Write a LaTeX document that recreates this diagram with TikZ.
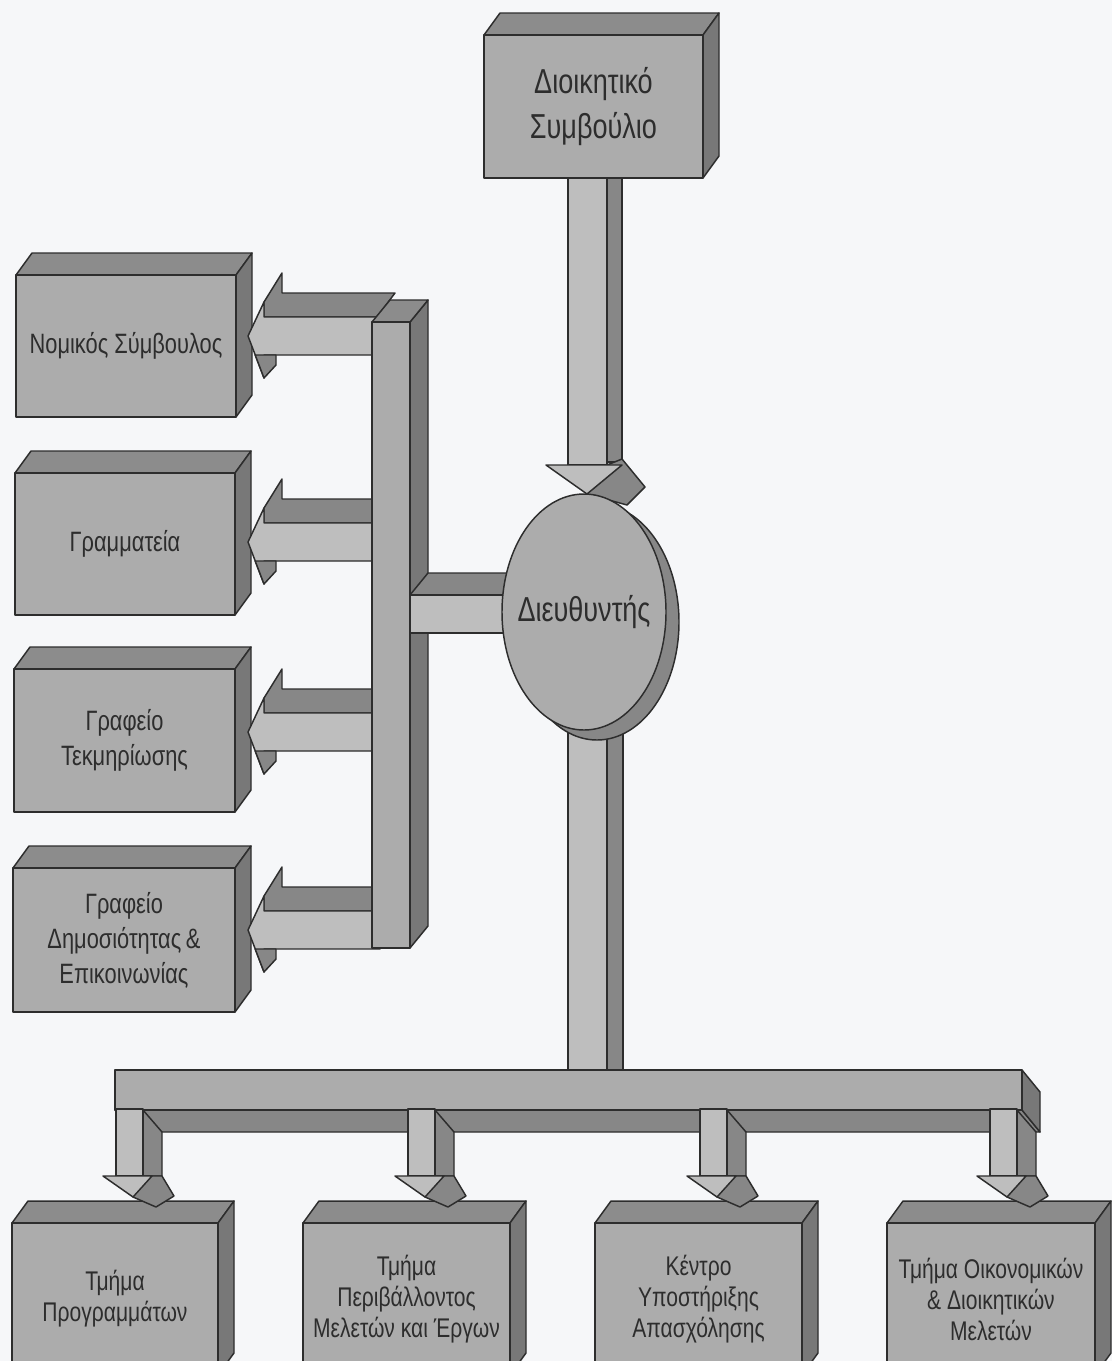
\documentclass[tikz,border=0pt]{standalone}
\usepackage{fontspec}
\setmainfont{Liberation Sans}
\newfontfamily\lblfont[FakeStretch=0.78]{Liberation Sans}
\definecolor{bg}{RGB}{246,247,249}
\definecolor{frontc}{RGB}{172,172,172}
\definecolor{topc}{RGB}{140,140,140}
\definecolor{sidec}{RGB}{120,120,120}
\definecolor{afront}{RGB}{190,190,190}
\definecolor{aside}{RGB}{135,135,135}
\definecolor{edge}{RGB}{45,45,45}
\definecolor{txt}{RGB}{45,45,45}
\tikzset{
  face/.style={draw=edge, line width=1.1pt, line join=round},
  lbl/.style={font=\lblfont\fontsize{21}{26.25}\selectfont, text=txt, align=center, inner sep=0pt},
  lblbig/.style={font=\lblfont\fontsize{26}{33.75}\selectfont, text=txt, align=center, inner sep=0pt},
  lblsmall/.style={font=\lblfont\fontsize{20.25}{23.25}\selectfont, text=txt, align=center, inner sep=0pt},
}
% 3D box: name, x1, y1, x2, y2, label style, text
\newcommand\tdbox[7]{%
  \filldraw[face,fill=topc] (#2,#3) -- (#2+16,#3-22) -- (#4+16,#3-22) -- (#4,#3) -- cycle;
  \filldraw[face,fill=sidec] (#4,#3) -- (#4+16,#3-22) -- (#4+16,#5-22) -- (#4,#5) -- cycle;
  \filldraw[face,fill=frontc] (#2,#3) rectangle (#4,#5);
  \node[#6] (#1) at ({(#2+#4)/2},{(#3+#5)/2}) {#7};
}
% left-pointing 3D arrow, mid y
\newcommand\larrow[1]{%
  \filldraw[face,fill=aside] (264,#1-34) -- (282,#1-63) -- (282,#1-43) -- (395,#1-43) -- (377,#1-19) -- (264,#1-19) -- cycle;
  \filldraw[face,fill=afront] (248,#1) -- (264,#1-34) -- (264,#1-19) -- (380,#1-19) -- (380,#1+19) -- (264,#1+19) -- (264,#1+42) -- cycle;
  \filldraw[face,fill=aside] (255.2,#1+19) -- (276,#1+19) -- (276,#1+29) -- (264,#1+42) -- cycle;
}
% down-pointing 3D arrow below the bottom bar, left x of shaft
\newcommand\darrow[1]{%
  \filldraw[face,fill=aside] (#1+27,1110) -- (#1+46,1132) -- (#1+46,1176) -- (#1+27,1176) -- cycle;
  \filldraw[face,fill=afront] (#1,1109) rectangle (#1+27,1176);
  \filldraw[face,fill=aside] (#1+27,1176) -- (#1+46,1176) -- (#1+58,1196) -- (#1+40,1207) -- (#1+17,1197) -- cycle;
  \filldraw[face,fill=afront] (#1-13,1176) -- (#1+36,1176) -- (#1+17,1197) -- cycle;
}
\begin{document}
\begin{tikzpicture}[x=0.75pt,y=-0.75pt]
\useasboundingbox (0,0) rectangle (1112,1361);
\fill[bg] (0,0) rectangle (1112,1361);
\begin{scope}
\clip (0,0) rectangle (1112,1361);

% left boxes
\tdbox{legal}{16}{275}{236}{417}{lbl}{Νομικός Σύμβουλος}
\tdbox{secr}{15}{473}{235}{615}{lbl}{Γραμματεία}
\tdbox{docu}{14}{669}{235}{812}{lbl}{Γραφείο\\Τεκμηρίωσης}
\tdbox{pubr}{13}{868}{235}{1012}{lbl}{Γραφείο\\Δημοσιότητας\,\&\\Επικοινωνίας}

% left arrows
\larrow{336}
\larrow{542}
\larrow{732}
\larrow{930}

% left vertical bar
\filldraw[face,fill=sidec] (410,322) -- (428,300) -- (428,926) -- (410,948) -- cycle;
\filldraw[face,fill=topc] (372,322) -- (390,300) -- (428,300) -- (410,322) -- cycle;
\filldraw[face,fill=frontc] (372,322) rectangle (410,948);

% connector director -> bar
\filldraw[face,fill=aside] (410,595) -- (428,573) -- (515,573) -- (515,595) -- cycle;
\filldraw[face,fill=afront] (410,595) rectangle (515,633);

% top box
\tdbox{board}{484}{35}{703}{178}{lblbig}{Διοικητικό\\Συμβούλιο}

% arrow board -> director
\filldraw[face,fill=aside] (607,178) rectangle (622,462);
\filldraw[face,fill=afront] (568,178) rectangle (607,465);
\filldraw[face,fill=aside] (607,465) -- (622,459) -- (645,487) -- (627,505) -- (587,494) -- cycle;
\filldraw[face,fill=afront] (546,465) -- (622,465) -- (587,494) -- cycle;

% lower shaft
\filldraw[face,fill=aside] (607,715) rectangle (623,1070);
\filldraw[face,fill=afront] (568,715) rectangle (607,1070);

% bottom bar
\filldraw[face,fill=aside] (115,1110) -- (133,1132) -- (1040,1132) -- (1022,1110) -- cycle;
\filldraw[face,fill=sidec] (1022,1070) -- (1040,1092) -- (1040,1132) -- (1022,1110) -- cycle;
\filldraw[face,fill=frontc] (115,1070) rectangle (1022,1110);

% director ellipse
\filldraw[face,fill=aside] (597,622) ellipse [x radius=61.5pt, y radius=88.5pt];
\filldraw[face,fill=frontc] (584,612) ellipse [x radius=61.5pt, y radius=88.5pt];
\node[lblbig] (dir) at (584,612) {Διευθυντής};

% bottom boxes
\tdbox{prog}{12}{1223}{218}{1375}{lblsmall}{Τμήμα\\Προγραμμάτων}
\tdbox{envi}{303}{1223}{510}{1375}{lblsmall}{Τμήμα\\Περιβάλλοντος\\Μελετών και Έργων}
\tdbox{empl}{595}{1223}{802}{1375}{lblsmall}{Κέντρο\\Υποστήριξης\\Απασχόλησης}
\tdbox{econ}{887}{1223}{1095}{1375}{lblsmall}{Τμήμα Οικονομικών\\\& Διοικητικών\\Μελετών}

% down arrows
\darrow{116}
\darrow{408}
\darrow{700}
\darrow{990}
\end{scope}
\end{tikzpicture}
\end{document}
